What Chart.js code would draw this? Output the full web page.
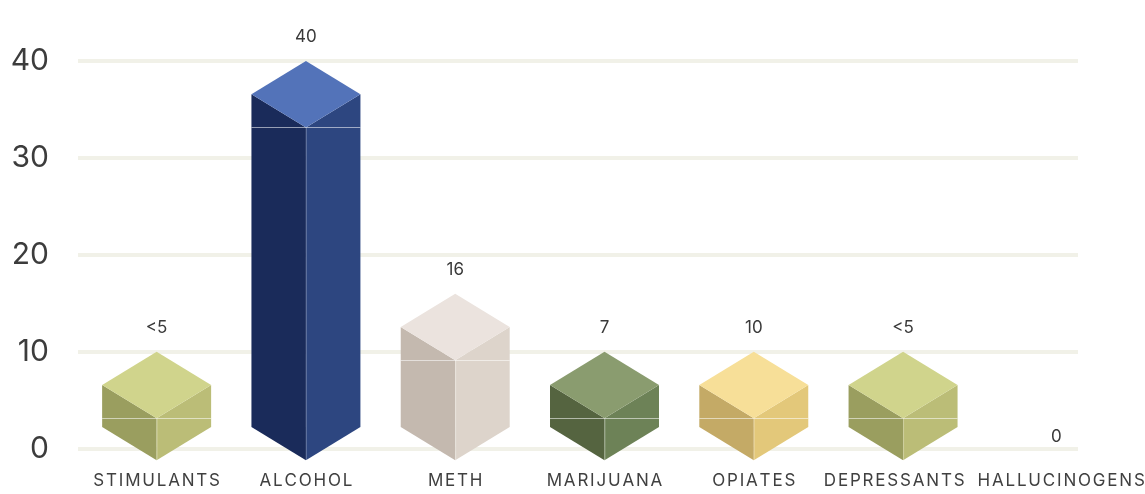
<!DOCTYPE html>
<html>
<head>
<meta charset="utf-8">
<script src="https://cdn.jsdelivr.net/npm/chart.js@4.4.1/dist/chart.umd.min.js"></script>
<style>
  html, body { margin: 0; padding: 0; background: #fff; }
  #wrap { width: 1145px; height: 494px; position: relative; }
</style>
</head>
<body>
<div id="wrap"><canvas id="chart"></canvas></div>
<script>
const categories = ['STIMULANTS', 'ALCOHOL', 'METH', 'MARIJUANA', 'OPIATES', 'DEPRESSANTS', 'HALLUCINOGENS'];
const counts = [4, 40, 16, 7, 10, 4, 0];
const countLabels = ['<5', '40', '16', '7', '10', '<5', '0'];
const yTicks = [0, 10, 20, 30, 40];

// face colours, one per category
const topColors   = ['#d0d48c', '#5373b9', '#ebe3de', '#8a9c6f', '#f7df98', '#d0d48c', '#d0d48c'];
const leftColors  = ['#9a9e5f', '#1a2b5a', '#c4b9af', '#556440', '#c4aa66', '#9a9e5f', '#9a9e5f'];
const rightColors = ['#bbbd77', '#2d4680', '#ddd4cb', '#6d8257', '#e3c87a', '#bbbd77', '#bbbd77'];

const FONT = 'Inter, "Noto Sans", sans-serif';
const SPACING = 1.8;

function poly(ctx, pts, fill) {
  ctx.beginPath();
  ctx.moveTo(pts[0][0], pts[0][1]);
  for (let k = 1; k < pts.length; k++) ctx.lineTo(pts[k][0], pts[k][1]);
  ctx.closePath();
  ctx.fillStyle = fill;
  ctx.fill();
}

function spacedWidth(ctx, text) {
  let w = 0;
  for (const ch of text) w += ctx.measureText(ch).width;
  return w + SPACING * (text.length - 1);
}

function drawSpaced(ctx, text, left, y) {
  let x = left;
  for (const ch of text) {
    ctx.fillText(ch, x, y);
    x += ctx.measureText(ch).width + SPACING;
  }
}

const prismPlugin = {
  id: 'prisms',
  beforeDatasetsDraw(chart) {
    const { ctx, chartArea, scales: { y } } = chart;
    ctx.save();
    ctx.strokeStyle = '#f1f1e8';
    ctx.lineWidth = 4;
    yTicks.forEach(t => {
      const py = Math.round(y.getPixelForValue(t));
      ctx.beginPath();
      ctx.moveTo(chartArea.left - 4, py);
      ctx.lineTo(chartArea.right - 49, py);
      ctx.stroke();
    });
    ctx.restore();
  },
  afterDatasetsDraw(chart) {
    const { ctx, chartArea, scales: { x, y } } = chart;
    const meta = chart.getDatasetMeta(0);
    const zeroY = y.getPixelForValue(0);
    ctx.save();
    meta.data.forEach((bar, i) => {
      const cx = bar.x;
      const hw = bar.width / 2;
      const dy = hw * 0.61;
      const base = zeroY - 22;
      let labelY;
      if (counts[i] > 0) {
        // top vertex sits on the value, box never smaller than a cube
        const side = Math.min(bar.y + dy, base - 42);
        const top = side - dy;
        const mid = side + dy;
        poly(ctx, [[cx - hw, side], [cx, mid], [cx, base + dy], [cx - hw, base]], leftColors[i]);
        poly(ctx, [[cx + hw, side], [cx, mid], [cx, base + dy], [cx + hw, base]], rightColors[i]);
        poly(ctx, [[cx, top], [cx + hw, side], [cx, mid], [cx - hw, side]], topColors[i]);
        ctx.lineWidth = 1;
        ctx.strokeStyle = 'rgba(255,255,255,0.25)';
        ctx.beginPath();
        ctx.moveTo(cx + 0.5, mid);
        ctx.lineTo(cx + 0.5, base + dy);
        ctx.stroke();
        ctx.strokeStyle = 'rgba(255,255,255,0.55)';
        ctx.beginPath();
        ctx.moveTo(cx - hw, Math.round(mid) + 0.5);
        ctx.lineTo(cx + hw, Math.round(mid) + 0.5);
        ctx.stroke();
        labelY = top - 24;
      } else {
        labelY = zeroY - 12;
      }
      ctx.fillStyle = '#3a3a3a';
      ctx.font = '17px ' + FONT;
      ctx.textAlign = 'center';
      ctx.textBaseline = 'middle';
      ctx.fillText(countLabels[i], cx + (counts[i] > 0 ? 0 : 4), labelY);
    });

    // category names, letter-spaced, pushed apart where they would touch
    ctx.font = '17px ' + FONT;
    ctx.textAlign = 'left';
    ctx.textBaseline = 'middle';
    ctx.fillStyle = '#404040';
    const items = categories.map((c, i) => {
      const w = spacedWidth(ctx, c);
      return { text: c, w, left: x.getPixelForTick(i) - w / 2 };
    });
    for (let i = 1; i < items.length; i++) {
      const prev = items[i - 1], cur = items[i];
      const overlap = prev.left + prev.w + 13 - cur.left;
      if (overlap > 0) { prev.left -= overlap / 2; cur.left += overlap / 2; }
    }
    const ly = chartArea.bottom + 32;
    items.forEach(it => drawSpaced(ctx, it.text, it.left, ly));
    ctx.restore();
  }
};

new Chart(document.getElementById('chart'), {
  type: 'bar',
  data: {
    labels: categories,
    datasets: [{
      data: counts,
      backgroundColor: 'rgba(0,0,0,0)',
      categoryPercentage: 1,
      barPercentage: 0.73
    }]
  },
  options: {
    responsive: true,
    maintainAspectRatio: false,
    animation: false,
    layout: { padding: { top: 61, right: 18, bottom: 0, left: 0 } },
    plugins: { legend: { display: false }, tooltip: { enabled: false } },
    scales: {
      x: {
        grid: { display: false, drawTicks: false },
        border: { display: false },
        ticks: { display: false },
        afterFit(scale) { scale.height = 45; }
      },
      y: {
        min: 0,
        max: 40,
        grid: { display: false, drawTicks: false },
        border: { display: false },
        ticks: {
          stepSize: 10,
          padding: 33,
          color: '#3c3c3c',
          font: { family: FONT, size: 30 }
        },
        afterFit(scale) {
          scale.width = 82;
          scale.paddingTop = 0;
          scale.paddingBottom = 0;
        }
      }
    }
  },
  plugins: [prismPlugin]
});
</script>
</body>
</html>
